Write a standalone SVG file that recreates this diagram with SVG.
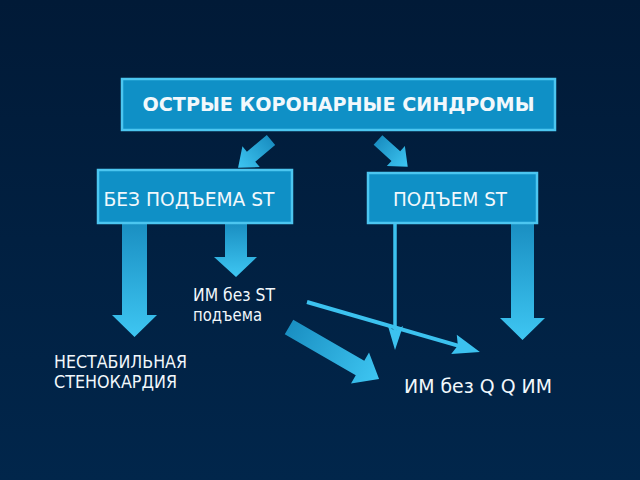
<svg xmlns="http://www.w3.org/2000/svg" width="640" height="480" viewBox="0 0 640 480">
<defs>
<linearGradient id="bg" x1="0" y1="0" x2="0" y2="1">
<stop offset="0" stop-color="#011a37"/>
<stop offset="1" stop-color="#01264b"/>
</linearGradient>
<linearGradient id="vg" x1="0" y1="0" x2="0" y2="1">
<stop offset="0" stop-color="#1a8fc2"/>
<stop offset="1" stop-color="#3ec6f2"/>
</linearGradient>
<linearGradient id="hg" x1="0" y1="0" x2="1" y2="0">
<stop offset="0" stop-color="#1a8fc2"/>
<stop offset="1" stop-color="#3ec6f2"/>
</linearGradient>
<style>
.box{fill:#0f90c6;stroke:#4cc6f0;stroke-width:2.5}
.t{font-family:"DejaVu Sans","Liberation Sans",sans-serif;fill:#f2f8fc}
.thin{stroke:#3cc2ef;stroke-width:3.5;fill:none}
.head{fill:#3cc2ef}
</style>
</defs>
<rect width="640" height="480" fill="url(#bg)"/>

<g id="connectors">
<polygon fill="url(#hg)" transform="translate(271,140) rotate(140)" points="0,-6.5 26,-6.5 26,-13.5 43,0 26,13.5 26,6.5 0,6.5"/>
<polygon fill="url(#hg)" transform="translate(378,140) rotate(42)" points="0,-6.5 24,-6.5 24,-13.5 40,0 24,13.5 24,6.5 0,6.5"/>
<polygon fill="url(#vg)" points="122,224 147,224 147,315 157,315 134.5,337 112,315 122,315"/>
<polygon fill="url(#vg)" points="225,224 247,224 247,257 257,257 236,277 214,257 225,257"/>
<polygon fill="url(#vg)" points="511,224 534,224 534,318 545,318 522.5,340 500,318 511,318"/>
<line class="thin" x1="395" y1="224" x2="395" y2="332"/>
<polygon class="head" points="388,326 395,350 403,326 395,331"/>
<g transform="translate(307,302) rotate(16.1)">
<line class="thin" x1="0" y1="0" x2="158" y2="0" style="stroke-width:4"/>
<polygon class="head" points="153,-10 180,0 153,10 157,0"/>
</g>
<polygon fill="url(#hg)" transform="translate(289,327) rotate(30)" points="0,-8.5 82,-8.5 82,-18 104,0 82,18 82,8.5 0,8.5"/>
</g>

<g id="node-acs">
<rect class="box" x="122" y="79" width="433" height="51"/>
<text class="t" x="338.5" y="111" font-size="20" font-weight="bold" text-anchor="middle" textLength="392" lengthAdjust="spacingAndGlyphs">ОСТРЫЕ КОРОНАРНЫЕ СИНДРОМЫ</text>
</g>
<g id="node-nstemi-group">
<rect class="box" x="98" y="170" width="194" height="53"/>
<text class="t" x="189" y="206" font-size="19" text-anchor="middle" textLength="171" lengthAdjust="spacingAndGlyphs">БЕЗ ПОДЪЕМА ST</text>
</g>
<g id="node-stemi-group">
<rect class="box" x="368" y="173" width="169" height="50"/>
<text class="t" x="450" y="206" font-size="19" text-anchor="middle" textLength="114" lengthAdjust="spacingAndGlyphs">ПОДЪЕМ ST</text>
</g>
<g id="node-nstemi">
<text class="t" x="193" y="301" font-size="17" textLength="82" lengthAdjust="spacingAndGlyphs">ИМ без ST</text>
<text class="t" x="193" y="321" font-size="17" textLength="69" lengthAdjust="spacingAndGlyphs">подъема</text>
</g>
<g id="node-ua">
<text class="t" x="54" y="368" font-size="17" textLength="133" lengthAdjust="spacingAndGlyphs">НЕСТАБИЛЬНАЯ</text>
<text class="t" x="54" y="388" font-size="17" textLength="123" lengthAdjust="spacingAndGlyphs">СТЕНОКАРДИЯ</text>
</g>
<g id="node-mi">
<text class="t" x="404" y="393" font-size="19" textLength="148" lengthAdjust="spacingAndGlyphs">ИМ без Q Q ИМ</text>
</g>
</svg>
